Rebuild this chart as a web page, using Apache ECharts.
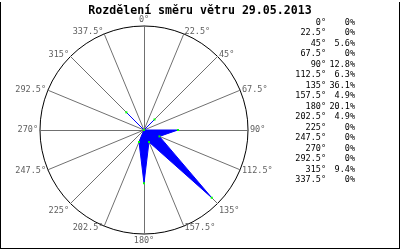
<!DOCTYPE html>
<html>
<head>
<meta charset="utf-8">
<script src="https://cdn.jsdelivr.net/npm/echarts@6/dist/echarts.min.js"></script>
<style>
html,body{margin:0;padding:0;background:#fff;}
#chart{width:400px;height:250px;}
</style>
</head>
<body>
<div id="chart"></div>
<script>
const titleText = 'Rozdělení směru větru 29.05.2013';
const directions = ['0°','22.5°','45°','67.5°','90°','112.5°','135°','157.5°','180°','202.5°','225°','247.5°','270°','292.5°','315°','337.5°'];
const percents = [0, 0, 5.6, 0, 12.8, 6.3, 36.1, 4.9, 20.1, 4.9, 0, 0, 0, 0, 9.4, 0];
const scaleMax = 39.2;

// radar goes counter-clockwise; reorder so directions run clockwise from the top
const order = [0].concat(directions.map((d, i) => i).slice(1).reverse());
const pctLabel = v => (v === 0 ? '0%' : v.toFixed(1) + '%');

const font = 'DejaVu Sans Mono';
const legendGraphics = [];
directions.forEach((d, i) => {
  const y = 22 + i * 10.5;
  legendGraphics.push({type:'text', right: 400-326, top: y - 4, style:{text: d, fill:'#000', font: '8.5px "' + font + '"', textAlign:'right'}});
  legendGraphics.push({type:'text', right: 400-355, top: y - 4, style:{text: pctLabel(percents[i]), fill:'#000', font: '8.5px "' + font + '"', textAlign:'right'}});
});

const chart = echarts.init(document.getElementById('chart'));
chart.setOption({
  animation: false,
  title: {
    text: titleText, left: 'center', top: 0,
    textStyle: {fontFamily: font, fontWeight: 'bold', fontSize: 11.6, color: '#000'}
  },
  radar: {
    center: [144, 130], radius: 104, startAngle: 90, shape: 'circle', splitNumber: 1,
    indicator: order.map(i => ({name: directions[i], max: scaleMax, min: 0})),
    nameGap: 2,
    axisName: {
      color: '#606060', fontFamily: font, fontSize: 8.5,
      formatter: name => (name === '135°' || name === '225°') ? '{d|' + name + '}' : name,
      rich: {d: {padding: [11, 0, 0, 0], color: '#606060', fontFamily: font, fontSize: 8.5}}
    },
    axisLine: {lineStyle: {color: '#707070', width: 1}},
    splitLine: {lineStyle: {color: '#000', width: 1}},
    splitArea: {show: false}
  },
  series: [{
    type: 'radar',
    symbol: 'rect', symbolSize: 2,
    itemStyle: {color: '#00ff00'},
    lineStyle: {color: '#0000ff', width: 1},
    areaStyle: {color: '#0000ff', opacity: 1},
    data: [{value: order.map(i => percents[i])}]
  }],
  graphic: legendGraphics.concat([
    {type:'line', shape:{x1:0.5, y1:2, x2:0.5, y2:249}, style:{stroke:'#000', lineWidth:1}},
    {type:'line', shape:{x1:399.5, y1:2, x2:399.5, y2:249}, style:{stroke:'#000', lineWidth:1}},
    {type:'line', shape:{x1:0, y1:248.5, x2:400, y2:248.5}, style:{stroke:'#000', lineWidth:1}}
  ])
});
</script>
</body>
</html>
